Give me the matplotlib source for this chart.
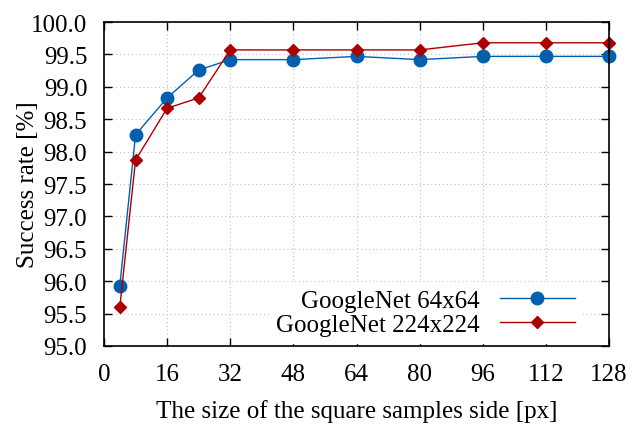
import matplotlib
matplotlib.use("Agg")
import matplotlib.pyplot as plt
import numpy as np

# sample side sizes [px]
sizes = [4, 8, 16, 24, 32, 48, 64, 80, 96, 112, 128]

# success rates [%]
googlenet_64 = [95.93, 98.26, 98.83, 99.26, 99.42, 99.42, 99.47, 99.42, 99.47, 99.47, 99.47]
googlenet_224 = [95.60, 97.87, 98.67, 98.83, 99.57, 99.57, 99.57, 99.57, 99.68, 99.68, 99.68]

labels = ["GoogleNet 64x64", "GoogleNet 224x224"]
x_ticks = np.arange(0, 129, 16)
y_ticks = np.arange(95.0, 100.01, 0.5)

plt.rcParams["font.family"] = ["Liberation Serif", "DejaVu Serif"]

fs = 18

fig = plt.figure(figsize=(6.44, 4.27), dpi=100)
ax = fig.add_axes([0.1615, 0.1874, 0.7842, 0.7586])

ax.plot(sizes, googlenet_64, color="#0060ad", linewidth=1.0, marker="o",
        markersize=9, label=labels[0], zorder=3, clip_on=False)
ax.plot(sizes, googlenet_224, color="#aa0000", linewidth=1.0, marker="D",
        markersize=6, label=labels[1], zorder=4, clip_on=False)

ax.set_xlim(0, 128)
ax.set_ylim(95.0, 100.0)
ax.set_xticks(x_ticks)
ax.set_yticks(y_ticks)
ax.set_yticklabels(["%.1f" % v for v in y_ticks])
ax.tick_params(direction="in", length=6, width=1, top=True, right=True,
               labelsize=fs, pad=12)

ax.grid(True, color="#c0c0c0", linestyle=(0, (1, 2.5)), linewidth=0.8)
ax.set_axisbelow(True)
for sp in ax.spines.values():
    sp.set_linewidth(1.2)
    sp.set_zorder(5)

ax.set_xlabel("The size of the square samples side [px]", fontsize=fs, labelpad=10)
ax.set_ylabel("Success rate [%]", fontsize=fs)
ax.yaxis.set_label_coords(-0.128, 0.5)

leg = ax.legend(loc="lower right", bbox_to_anchor=(0.952, 0.0), frameon=True,
                fontsize=fs, markerfirst=False,
                handlelength=3.0, borderaxespad=0.1, labelspacing=0.05,
                handletextpad=0.8, borderpad=0.3, fancybox=False)
leg.get_frame().set_edgecolor("white")
leg.get_frame().set_facecolor("white")
leg.get_frame().set_alpha(1.0)
for t in leg.get_texts():
    t.set_ha("right")

fig.savefig("out.png", dpi=100)
